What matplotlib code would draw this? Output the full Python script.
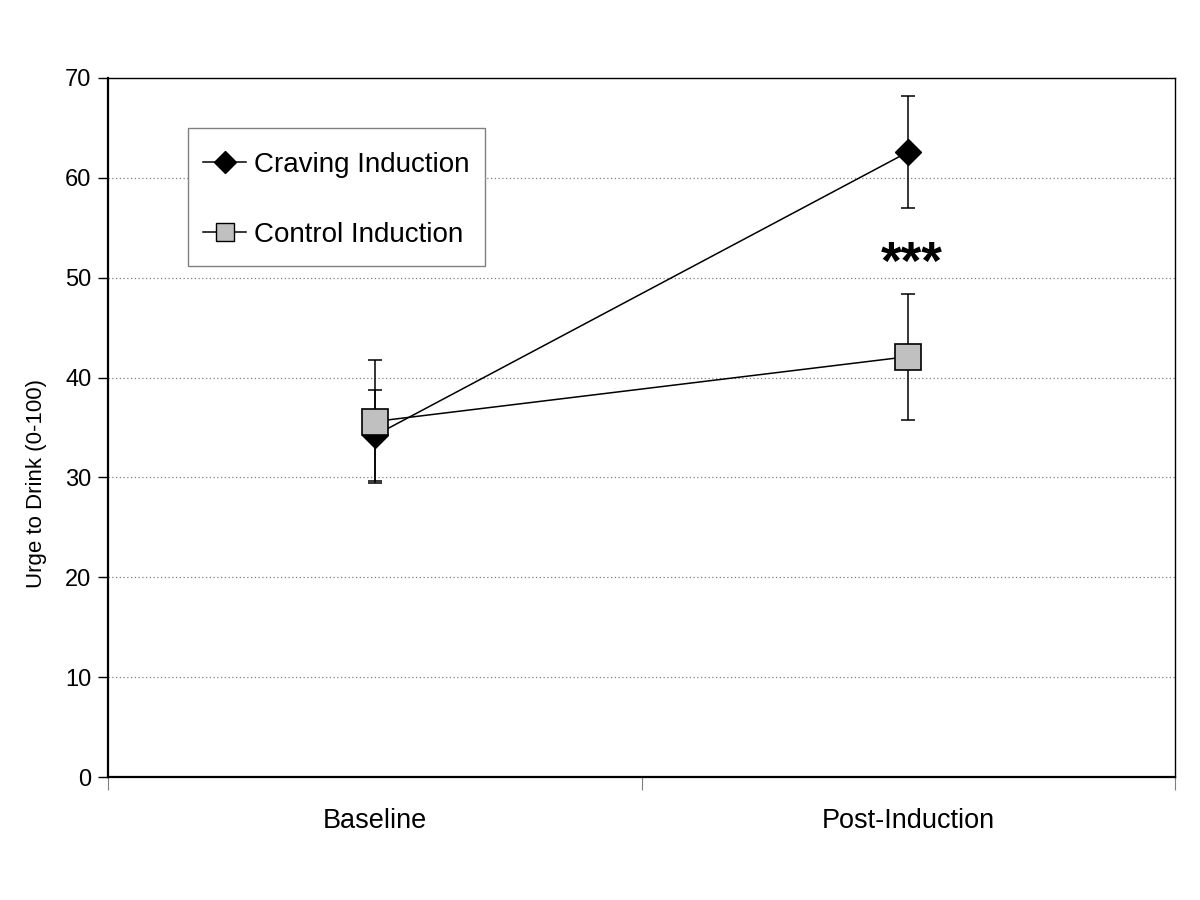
import matplotlib
matplotlib.use("Agg")
import matplotlib.pyplot as plt
from matplotlib.lines import Line2D
from matplotlib.patches import Rectangle

plt.rcParams['font.family'] = ['Liberation Sans', 'DejaVu Sans']

categories = ["Baseline", "Post-Induction"]
craving_mean = [34.2, 62.6]
craving_err = [4.6, 5.6]
control_mean = [35.6, 42.1]
control_err = [6.2, 6.3]
series_labels = ["Craving Induction", "Control Induction"]
y_ticks = [0, 10, 20, 30, 40, 50, 60, 70]
signif_text = "***"
signif_y = 49.9

fig = plt.figure(figsize=(12, 9), dpi=100)
ax = fig.add_axes([108/1200, 1 - 777/900, (1175-108)/1200, (777-78)/900])

xpos = [0.5, 1.5]

ax.errorbar(xpos, craving_mean, yerr=craving_err, fmt='none', ecolor='black',
            elinewidth=1.1, capsize=5, capthick=1.1, zorder=3)
ax.errorbar(xpos, control_mean, yerr=control_err, fmt='none', ecolor='black',
            elinewidth=1.1, capsize=5, capthick=1.1, zorder=3)
ax.plot(xpos, craving_mean, color='black', lw=1.1, marker='D', markersize=13.2,
        markerfacecolor='black', markeredgecolor='black', zorder=4)
ax.plot(xpos, control_mean, color='black', lw=1.1, marker='s', markersize=18.5,
        markerfacecolor='#c0c0c0', markeredgecolor='black', markeredgewidth=1.2, zorder=5)

ax.text(xpos[1] + 0.006, signif_y, signif_text, ha='center', va='baseline',
        fontsize=38, fontweight='bold')

ax.set_xlim(0, 2)
ax.set_ylim(0, 70)
ax.set_yticks(y_ticks)
ax.set_yticklabels([str(t) for t in y_ticks], fontsize=17)
ax.tick_params(axis='y', direction='out', length=7, width=1, pad=5)
ax.set_xticks([0, 1, 2])
ax.set_xticklabels(['', '', ''])
ax.tick_params(axis='x', which='major', direction='out', length=9, width=0.8, color='#808080')
ax.set_xticks(xpos, minor=True)
ax.set_xticklabels(categories, minor=True, fontsize=19.5)
ax.tick_params(axis='x', which='minor', length=0, pad=22)

for y in y_ticks[1:-1]:
    ax.axhline(y, color='#808080', lw=0.9, ls=(0, (1, 2)), zorder=1)

ax.spines['left'].set_linewidth(1.6)
ax.spines['bottom'].set_linewidth(1.6)
ax.spines['top'].set_linewidth(1.0)
ax.spines['right'].set_linewidth(1.0)
for s in ax.spines.values():
    s.set_color('black')

ax.set_ylabel("Urge to Drink (0-100)", fontsize=16)
ax.yaxis.set_label_coords(-0.057, (777-484)/699)

# legend frame (drawn as a rectangle in axes coordinates)
ax.add_patch(Rectangle(((188-108)/1067, (777-266)/699), (485-188)/1067, (266-128)/699,
                       transform=ax.transAxes, facecolor='white', edgecolor='#808080',
                       lw=1.0, zorder=6))

handles = [
    Line2D([], [], color='black', lw=1.1, marker='D', markersize=11,
           markerfacecolor='black', markeredgecolor='black'),
    Line2D([], [], color='black', lw=1.1, marker='s', markersize=12.5,
           markerfacecolor='#c0c0c0', markeredgecolor='black'),
]
leg = ax.legend(handles, series_labels, loc='upper left',
                bbox_to_anchor=((203-108)/1067, (777-152)/699),
                borderaxespad=0, fontsize=20, frameon=False, labelspacing=1.57,
                handlelength=1.55, handletextpad=0.28, borderpad=0)
leg.set_zorder(7)

fig.savefig("out.png", dpi=100)
